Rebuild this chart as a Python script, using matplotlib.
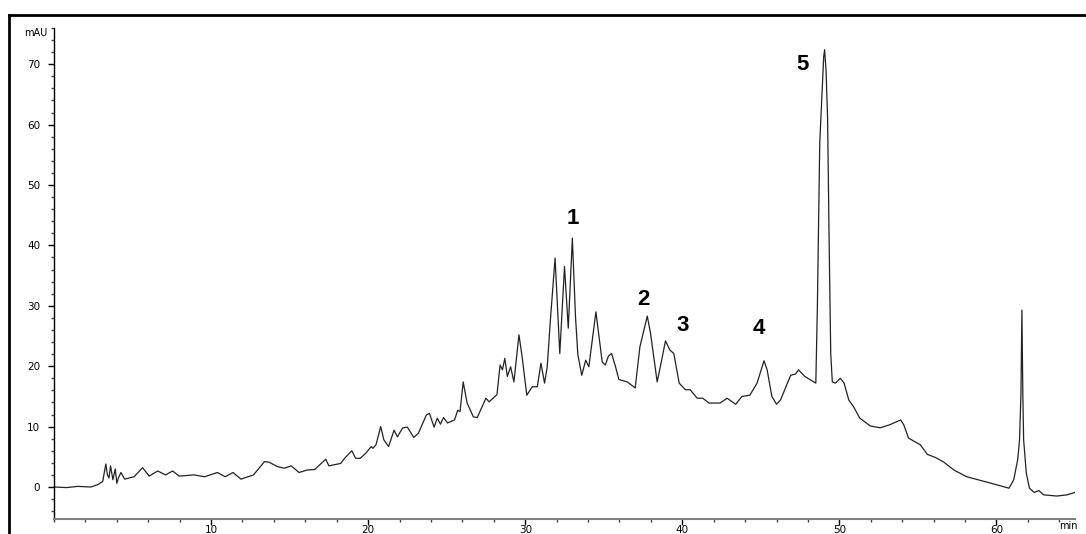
import matplotlib
matplotlib.use("Agg")
import matplotlib.pyplot as plt
from matplotlib.lines import Line2D
from matplotlib.ticker import MultipleLocator

# chromatogram trace: retention time (min) and absorbance (mAU)
time_min = [0.0, 0.8, 1.5, 2.35, 2.8, 3.1, 3.3, 3.4, 3.5, 3.6, 3.75, 3.9, 4.0, 4.1,
            4.26, 4.5, 5.1, 5.64, 6.06, 6.6, 7.1, 7.55, 7.97, 8.9, 9.6, 10.4, 10.9,
            11.4, 11.9, 12.7, 13.4, 13.7, 14.2, 14.65, 15.1, 15.6, 16.1, 16.6, 17.3,
            17.5, 18.25, 18.5, 18.96, 19.2, 19.5, 19.85, 20.2, 20.3, 20.5, 20.8, 21.0,
            21.3, 21.65, 21.86, 22.2, 22.5, 22.9, 23.2, 23.7, 23.9, 24.2, 24.4, 24.6,
            24.8, 25.05, 25.5, 25.7, 25.85, 26.05, 26.3, 26.7, 26.95, 27.15, 27.5,
            27.7, 28.2, 28.4, 28.55, 28.7, 28.86, 29.07, 29.28, 29.6, 29.8, 30.1,
            30.45, 30.77, 31.0, 31.23, 31.4, 31.6, 31.9, 32.2, 32.5, 32.74, 33.0,
            33.2, 33.35, 33.6, 33.85, 34.05, 34.5, 34.9, 35.1, 35.3, 35.5, 35.75,
            35.96, 36.5, 37.0, 37.3, 37.77, 37.98, 38.4, 38.6, 38.93, 39.2, 39.46,
            39.57, 39.8, 40.2, 40.5, 40.95, 41.3, 41.7, 42.4, 42.85, 43.4, 43.8,
            44.3, 44.76, 45.2, 45.4, 45.7, 46.0, 46.25, 46.9, 47.2, 47.4, 47.8,
            48.5, 48.6, 48.75, 48.9, 49.0, 49.06, 49.15, 49.25, 49.35, 49.45, 49.55,
            49.75, 50.06, 50.3, 50.6, 50.9, 51.3, 51.97, 52.6, 53.2, 53.9, 54.1,
            54.4, 54.8, 55.15, 55.6, 56.1, 56.6, 57.3, 58.1, 59.4, 60.8, 61.1,
            61.35, 61.47, 61.56, 61.62, 61.68, 61.73, 61.9, 62.1, 62.4, 62.7, 63.0,
            63.85, 64.5, 65.0]
mau = [0.0, -0.1, 0.1, 0.0, 0.4, 0.9, 3.8, 2.0, 1.5, 3.5, 1.2, 3.0, 0.6, 1.5,
       2.4, 1.3, 1.7, 3.2, 1.8, 2.65, 2.0, 2.65, 1.8, 2.0, 1.7, 2.4, 1.7,
       2.4, 1.3, 2.0, 4.2, 4.1, 3.4, 3.1, 3.5, 2.4, 2.8, 2.9, 4.6,
       3.5, 3.9, 4.75, 6.0, 4.75, 4.75, 5.6, 6.7, 6.4, 7.0, 10.0, 7.8,
       6.7, 9.4, 8.3, 9.8, 9.9, 8.2, 8.9, 11.9, 12.2, 9.9, 11.4, 10.4,
       11.5, 10.6, 11.1, 12.7, 12.5, 17.4, 13.9, 11.6, 11.5, 12.7, 14.7,
       14.1, 15.3, 20.2, 19.4, 21.3, 18.3, 19.9, 17.4, 25.2, 21.6, 15.2,
       16.6, 16.6, 20.5, 17.2, 19.9, 27.6, 37.9, 22.1, 36.5, 26.3, 41.2,
       28.2, 21.9, 18.5, 21.0, 19.9, 29.0, 20.7, 20.2, 21.7, 22.1, 19.9,
       17.8, 17.4, 16.4, 23.2, 28.3, 25.4, 17.4, 19.9, 24.2, 22.7, 22.1,
       20.5, 17.2, 16.1, 16.1, 14.7, 14.7, 13.9, 13.9, 14.7, 13.7, 15.0,
       15.2, 17.2, 20.9, 19.4, 15.0, 13.7, 14.4, 18.5, 18.7, 19.4, 18.3,
       17.2, 30.0, 57.0, 65.4, 71.2, 72.4, 69.0, 61.0, 40.0, 22.0, 17.4,
       17.2, 18.0, 17.2, 14.4, 13.3, 11.4, 10.1, 9.8, 10.3, 11.1, 10.3,
       8.1, 7.5, 7.0, 5.4, 4.9, 4.2, 2.8, 1.7, 0.8, -0.2, 1.2,
       4.5, 7.8, 15.5, 29.3, 15.0, 7.8, 2.3, -0.2, -0.9, -0.6, -1.3,
       -1.5, -1.3, -0.9]

# numbered compounds and where their labels sit
peak_ids = ["1", "2", "3", "4", "5"]
label_time = [33.0, 37.5, 40.0, 44.85, 47.65]
label_mau = [44.5, 31.1, 26.7, 26.2, 70.0]

narrow = ["Liberation Sans Narrow", "DejaVu Sans"]

fig = plt.figure(figsize=(10.86, 5.34), dpi=100)
ax = fig.add_axes([54 / 1086, 1 - 519 / 534, (1075 - 54) / 1086, (519 - 28) / 534])

ax.plot(time_min, mau, color="#222222", lw=0.9)

for lab, t, v in zip(peak_ids, label_time, label_mau):
    ax.text(t, v, lab, fontsize=16, fontweight="heavy", family=["Liberation Sans", "DejaVu Sans"],
            ha="center", va="center", color="black")

ax.set_xlim(0, 65)
ax.set_ylim(-5.3, 76.0)

ax.xaxis.set_major_locator(MultipleLocator(10))
ax.xaxis.set_minor_locator(MultipleLocator(2))
ax.yaxis.set_major_locator(MultipleLocator(10))
ax.yaxis.set_minor_locator(MultipleLocator(2))
ax.set_xticks([10, 20, 30, 40, 50, 60])

for s in ["top", "right"]:
    ax.spines[s].set_visible(False)
ax.spines["left"].set_color("black")
ax.spines["bottom"].set_color("#808080")
ax.spines["left"].set_linewidth(1.0)
ax.spines["bottom"].set_linewidth(1.5)

ax.tick_params(axis="y", which="major", length=4, width=1, pad=6, labelsize=7.5)
ax.tick_params(axis="y", which="minor", length=2.5, width=1, color="#444444")
ax.tick_params(axis="x", which="major", length=4, width=1, pad=0.5, labelsize=7.5)
ax.tick_params(axis="x", which="minor", length=2.5, width=1, color="#444444")
for lbl in ax.get_xticklabels() + ax.get_yticklabels():
    lbl.set_family(narrow)

fig.text(36 / 1086, 1 - 33 / 534, "mAU", fontsize=7, family=narrow, ha="center", va="center")
fig.text(1068 / 1086, 1 - 526 / 534, "min", fontsize=7, family=narrow, ha="center", va="center")

# heavy frame along the top and left edge
fig.add_artist(Line2D([9 / 1086, 9 / 1086], [-0.05, 1 - 15 / 534], transform=fig.transFigure,
                      color="black", lw=2.0, solid_capstyle="projecting"))
fig.add_artist(Line2D([9 / 1086, 1.05], [1 - 15 / 534, 1 - 15 / 534], transform=fig.transFigure,
                      color="black", lw=2.0, solid_capstyle="projecting"))

fig.savefig("out.png", dpi=100)
